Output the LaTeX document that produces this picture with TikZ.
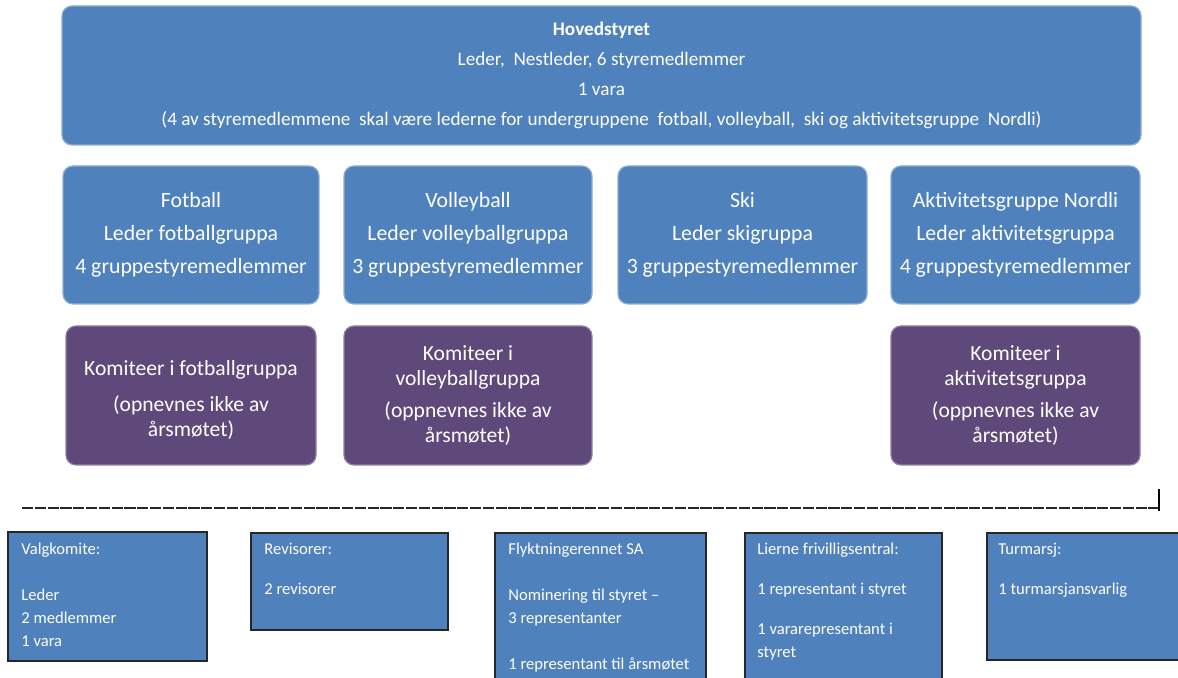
\documentclass[tikz,border=0pt]{standalone}
\usepackage{fontspec}
\setmainfont{Carlito}
\definecolor{orgblue}{HTML}{4F81BD}
\definecolor{orgpurple}{HTML}{5F497A}

\begin{document}
\begin{tikzpicture}[x=0.5pt,y=-0.5pt,
    groupbox/.style={draw=white!35!orgblue,line width=0.6pt,fill=orgblue,rounded corners=5pt,
      text=white,align=center,inner sep=0pt,outer sep=0pt,minimum height=69pt},
    komitebox/.style={groupbox,draw=white!30!orgpurple,fill=orgpurple,minimum height=69.5pt,
      font=\fontsize{10.8}{12.5}\selectfont},
    infobox/.style={draw=black!85,line width=0.8pt,fill=orgblue,anchor=north west,
      inner sep=0pt,outer sep=0pt},
    infotext/.style={anchor=north west,inner sep=0pt,text=white,align=left,
      font=\fontsize{8.3}{11.5}\selectfont}]
  \useasboundingbox (0,0) rectangle (1178,678);
  \clip (0,0) rectangle (1178,678);

  \node[groupbox,minimum width=539.5pt,minimum height=69.5pt,font=\fontsize{9.6}{15}\selectfont]
    (hoved) at (601.5,75.5) {\textbf{Hovedstyret}\\Leder,\ \ Nestleder, 6 styremedlemmer\\1 vara\\
    (4 av styremedlemmene\ \ skal være lederne for undergruppene\ \ fotball, volleyball,\ \ ski og aktivitetsgruppe\ \ Nordli)};

  \node[groupbox,minimum width=128pt,font=\fontsize{10.9}{16.5}\selectfont] (fotball) at (191,235)
    {Fotball\\Leder fotballgruppa\\4 gruppestyremedlemmer};
  \node[groupbox,minimum width=124pt,font=\fontsize{10.9}{16.5}\selectfont] (volley) at (468,235)
    {Volleyball\\Leder volleyballgruppa\\3 gruppestyremedlemmer};
  \node[groupbox,minimum width=124.5pt,font=\fontsize{10.9}{16.5}\selectfont] (ski) at (742.5,235)
    {Ski\\Leder skigruppa\\3 gruppestyremedlemmer};
  \node[groupbox,minimum width=124.5pt,font=\fontsize{10.9}{16.5}\selectfont] (aktiv) at (1015.5,235)
    {Aktivitetsgruppe Nordli\\Leder aktivitetsgruppa\\4 gruppestyremedlemmer};

  \node[komitebox,minimum width=125pt] (komfot) at (191,395.5)
    {\\[-1pt]Komiteer i fotballgruppa\\[5.5pt](opnevnes ikke av\\årsmøtet)};
  \node[komitebox,minimum width=124pt] (komvol) at (468,395.5)
    {Komiteer i\\volleyballgruppa\\[3.5pt](oppnevnes ikke av\\årsmøtet)};
  \node[komitebox,minimum width=124.5pt] (komakt) at (1015.5,395.5)
    {Komiteer i\\aktivitetsgruppa\\[3.5pt](oppnevnes ikke av\\årsmøtet)};

  \draw[line width=0.6pt,black!85,dash pattern=on 5.6pt off 0.8pt] (22,508) -- (1159,508);
  \draw[line width=1pt] (1159,489) -- (1159,511);

  \node[infobox,minimum width=99.5pt,minimum height=64.5pt] (valg) at (8,532) {};
  \node[infotext] (valgtxt) at ([shift={(13,11)}]valg.north west)
    {Valgkomite:\\[11.5pt]Leder\\2 medlemmer\\1 vara};
  \node[infobox,minimum width=98.5pt,minimum height=48.5pt] (rev) at (251,533) {};
  \node[infotext] (revtxt) at ([shift={(13,10)}]rev.north west)
    {Revisorer:\\[8.5pt]2 revisorer};
  \node[infobox,minimum width=105.5pt,minimum height=80pt] (flykt) at (495,533) {};
  \node[infotext] (flykttxt) at ([shift={(13,10)}]flykt.north west)
    {Flyktningerennet SA\\[11.5pt]Nominering til styret --\\3 representanter\\[11.5pt]1 representant til årsmøtet};
  \node[infobox,minimum width=98.5pt,minimum height=80pt] (lierne) at (745,533) {};
  \node[infotext] (liernetxt) at ([shift={(12,10)}]lierne.north west)
    {Lierne frivilligsentral:\\[8.5pt]1 representant i styret\\[8.5pt]1 vararepresentant i\\styret};
  \node[infobox,minimum width=110pt,minimum height=63.5pt] (tur) at (987,533) {};
  \node[infotext] (turtxt) at ([shift={(11,10)}]tur.north west)
    {Turmarsj:\\[8.5pt]1 turmarsjansvarlig};
\end{tikzpicture}
\end{document}
